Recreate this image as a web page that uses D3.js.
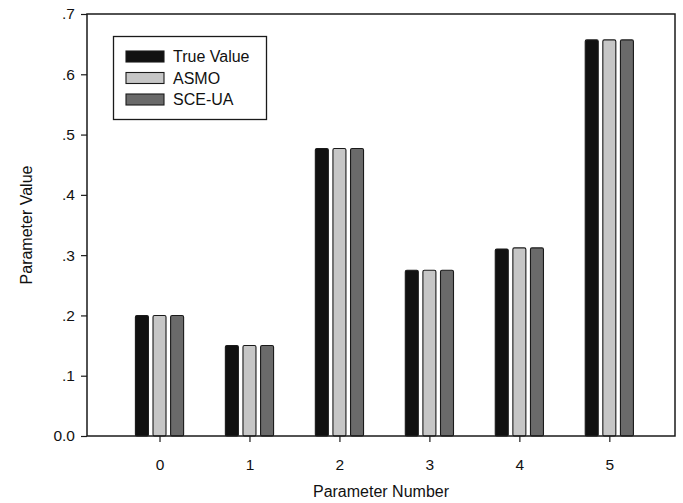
<!DOCTYPE html>
<html><head><meta charset="utf-8">
<script src="https://cdn.jsdelivr.net/npm/d3@7"></script>
<style>body{margin:0;background:#fff}svg{display:block}text{font-family:"Liberation Sans",Arial,sans-serif;fill:#111}</style>
</head><body><svg id="c" width="683" height="503"></svg>
<script>
const categories = [0, 1, 2, 3, 4, 5];
const trueValue = [0.200, 0.150, 0.477, 0.275, 0.310, 0.657];
const asmo      = [0.200, 0.150, 0.477, 0.275, 0.312, 0.657];
const sceua     = [0.200, 0.150, 0.477, 0.275, 0.312, 0.657];
const seriesNames = ["True Value", "ASMO", "SCE-UA"];
const yTicks = [0, 0.1, 0.2, 0.3, 0.4, 0.5, 0.6, 0.7];

const series = [trueValue, asmo, sceua];
const colors = ["#111111", "#c6c6c6", "#6a6a6a"];
const svg = d3.select("#c");
const L = 87, R = 675, T = 14, B = 436;
const x = d3.scaleLinear().domain([-0.806, 5.73]).range([L, R]);
const y = d3.scaleLinear().domain([0, 0.7]).range([B, T]);
const bw = 13, step = 17.6;

// bars
series.forEach((s, si) => {
  svg.append("g").selectAll("rect").data(categories).join("rect")
    .attr("x", d => x(d) + (si - 1) * step - bw / 2)
    .attr("y", (d, i) => y(s[i]))
    .attr("width", bw)
    .attr("height", (d, i) => y(0) - y(s[i]))
    .attr("rx", 1.5)
    .attr("fill", colors[si])
    .attr("stroke", "#1a1a1a").attr("stroke-width", 1.1);
});

// frame
svg.append("rect").attr("x", L).attr("y", T).attr("width", R - L).attr("height", B - T)
  .attr("fill", "none").attr("stroke", "#1a1a1a").attr("stroke-width", 1.5);

// axes
const yAxis = d3.axisLeft(y).tickValues(yTicks).tickSize(6).tickPadding(6)
  .tickFormat(d => d === 0 ? "0.0" : d3.format(".1f")(d).replace(/^0/, ""));
const gy = svg.append("g").attr("transform", `translate(${L},0)`).call(yAxis);
gy.select(".domain").remove();
gy.selectAll("line").attr("stroke", "#1a1a1a").attr("stroke-width", 1.2);
gy.selectAll("text").attr("font-size", 15.5).style("fill", "#111");

const xAxis = d3.axisBottom(x).tickValues(categories).tickSize(6).tickPadding(17).tickFormat(d3.format("d"));
const gx = svg.append("g").attr("transform", `translate(0,${B})`).call(xAxis);
gx.select(".domain").remove();
gx.selectAll("line").attr("stroke", "#1a1a1a").attr("stroke-width", 1.2);
gx.selectAll("text").attr("font-size", 15.5).style("fill", "#111");

// titles
svg.append("text").attr("x", 381).attr("y", 497).attr("text-anchor", "middle")
  .attr("font-size", 16).text("Parameter Number");
svg.append("text").attr("transform", "translate(32,225) rotate(-90)").attr("text-anchor", "middle")
  .attr("font-size", 16).text("Parameter Value");

// legend
const lg = svg.append("g");
lg.append("rect").attr("x", 113.5).attr("y", 36.5).attr("width", 153).attr("height", 83)
  .attr("fill", "#fff").attr("stroke", "#1a1a1a").attr("stroke-width", 1.3);
seriesNames.forEach((n, i) => {
  const yy = 51 + i * 21.5;
  lg.append("rect").attr("x", 126).attr("y", yy).attr("width", 38).attr("height", 11)
    .attr("fill", colors[i]).attr("stroke", "#1a1a1a").attr("stroke-width", 1.1);
  lg.append("text").attr("x", 173).attr("y", yy + 11).attr("font-size", 16).text(n);
});
</script></body></html>
